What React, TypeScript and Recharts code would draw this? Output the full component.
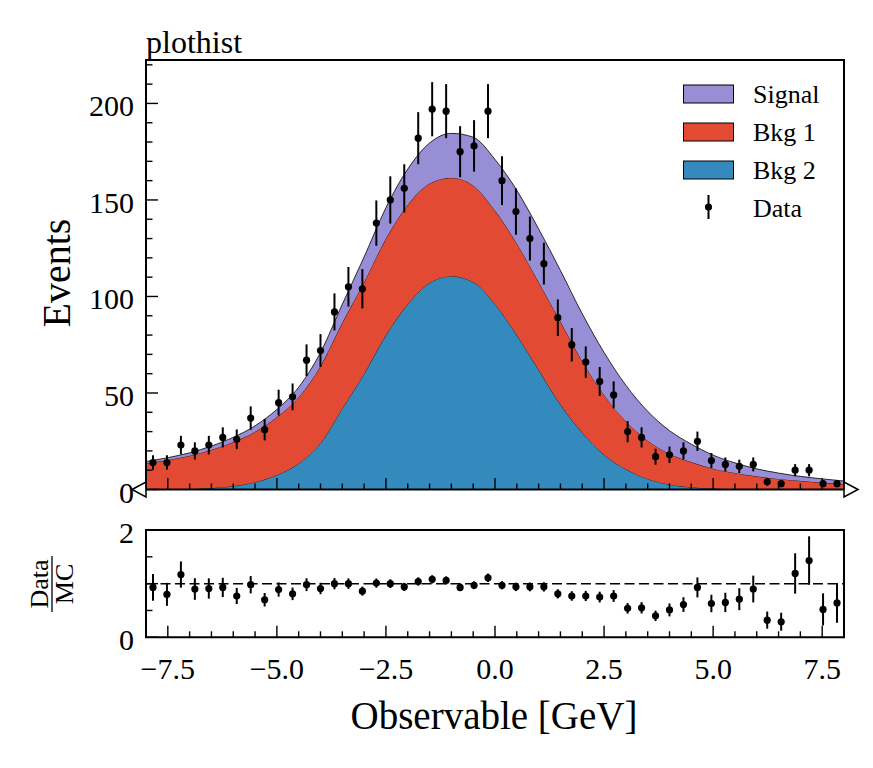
import {
  Area,
  ComposedChart,
  ErrorBar,
  ReferenceArea,
  ReferenceDot,
  ReferenceLine,
  Scatter,
  XAxis,
  YAxis,
} from "recharts";

// histogram definition
const X_LO = -8;
const X_HI = 8;
const N_BINS = 50;

// model curves, sampled every 0.5 (stacked: bkg2 at the bottom, then bkg1, then signal)
const curveX = [
  -8, -7.5, -7, -6.5, -6, -5.5, -5, -4.5, -4, -3.5, -3, -2.5, -2, -1.5, -1, -0.5, 0,
  0.5, 1, 1.5, 2, 2.5, 3, 3.5, 4, 4.5, 5, 5.5, 6, 6.5, 7, 7.5, 8,
];
const bkg2 = [
  0, 0.1, 0.3, 0.8, 1.8, 3.8, 7.5, 13.5, 24, 42, 60, 80, 96, 107, 110.5, 107.5, 96,
  80, 62, 44, 29.5, 18, 10.5, 5.5, 2.6, 1.2, 0.5, 0.2, 0.1, 0, 0, 0, 0,
];
const bkg1 = [
  13.5, 15.2, 17.2, 19.8, 22.8, 26.1, 30, 34.3, 40, 44.5, 47.5, 50, 51.5, 51.5, 51, 50, 48.5,
  47.5, 45.5, 43, 37, 31, 24.8, 19.8, 15.9, 13, 10.3, 8.4, 6.7, 5.5, 4.5, 3.6, 2.8,
];
const signal = [
  1.0, 1.2, 1.5, 1.9, 2.4, 3.1, 4.0, 5.2, 7.0, 9.5, 13, 16, 18.5, 21, 23, 25, 26.5,
  27.5, 27.5, 26.5, 24.5, 22, 18.7, 15.2, 12, 9.3, 7, 5.2, 3.9, 3, 2.3, 1.9, 1.6,
];

// observed counts per bin
const dataCounts = [
  14, 14, 23, 20, 23, 27, 26, 37, 31, 45,
  48, 67, 72, 92, 105, 104, 138, 150, 156, 182,
  197, 196, 175, 178, 196, 160, 144, 130, 117, 89,
  75, 66, 56, 49, 30, 27, 17, 18, 20, 25,
  15, 13, 12, 13, 4, 3, 10, 10, 3, 3,
];

// data / MC per bin
const ratioValues = [
  0.93, 0.8, 1.17, 0.9, 0.91, 0.93, 0.77, 0.98, 0.7, 0.89,
  0.81, 0.98, 0.91, 1.0, 1.0, 0.86, 1.01, 1.0, 0.94, 1.04,
  1.08, 1.06, 0.93, 0.97, 1.11, 0.97, 0.94, 0.94, 0.94, 0.81,
  0.77, 0.77, 0.75, 0.77, 0.54, 0.55, 0.4, 0.51, 0.61, 0.93,
  0.63, 0.65, 0.71, 0.9, 0.32, 0.29, 1.19, 1.43, 0.52, 0.64,
];

const xTicks = [
  -8, -7.5, -7, -6.5, -6, -5.5, -5, -4.5, -4, -3.5, -3, -2.5, -2, -1.5, -1, -0.5, 0,
  0.5, 1, 1.5, 2, 2.5, 3, 3.5, 4, 4.5, 5, 5.5, 6, 6.5, 7, 7.5, 8,
];
const xMajor = [-7.5, -5, -2.5, 0, 2.5, 5, 7.5];
const yMainTicks = [0, 10, 20, 30, 40, 50, 60, 70, 80, 90, 100, 110, 120, 130, 140, 150, 160, 170, 180, 190, 200, 210, 220];
const yMainMajor = [0, 50, 100, 150, 200];
const yRatioTicks = [0, 0.5, 1, 1.5, 2];
const yRatioMajor = [0, 1, 2];
const yRatioLabels = [0, 2];

const COLORS = { signal: "#988ED5", bkg1: "#E24A33", bkg2: "#348ABD" };
const FONT = "'Liberation Serif', 'DejaVu Serif', serif";
const Y_MAX = 222.5;

const binWidth = (X_HI - X_LO) / N_BINS;
const binCenter = (i: number) => X_LO + binWidth * (i + 0.5);

const curveData = curveX.map((x, i) => ({ x, bkg2: bkg2[i], bkg1: bkg1[i], signal: signal[i] }));
const dataPoints = dataCounts.map((n, i) => ({ x: binCenter(i), y: n, err: Math.sqrt(n) }));
const ratioPoints = ratioValues.map((r, i) => ({
  x: binCenter(i),
  r,
  err: r / Math.sqrt(dataCounts[i]),
}));

const has = (list: number[], v: number) => list.some((m) => Math.abs(m - v) < 1e-9);
const fmtX = (v: number) => (v < 0 ? "\u2212" : "") + Math.abs(v).toFixed(1);

// ticks point inwards; labels sit outside the frame
function XTick(props: any) {
  const { x, y, payload, showLabel } = props;
  const major = has(xMajor, payload.value);
  return (
    <g>
      <line x1={x} x2={x} y1={y} y2={y - (major ? 11.5 : 6)} stroke="#000" strokeWidth={1.4} />
      {showLabel && major && (
        <text x={x} y={y + 42} textAnchor="middle" fontFamily={FONT} fontSize={30} fill="#000">
          {fmtX(payload.value)}
        </text>
      )}
    </g>
  );
}

function YTick(props: any) {
  const { x, y, payload, major, labels } = props;
  const isMajor = has(major, payload.value);
  return (
    <g>
      <line x1={x} x2={x + (isMajor ? 12 : 6.5)} y1={y} y2={y} stroke="#000" strokeWidth={1.4} />
      {has(labels, payload.value) && (
        <text x={x - 12} y={y + 13} textAnchor="end" fontFamily={FONT} fontSize={30} fill="#000">
          {payload.value}
        </text>
      )}
    </g>
  );
}

const dot = (p: any) => <circle cx={p.cx} cy={p.cy} r={3.6} fill="#000" />;

const triLeft = (p: any) => (
  <polygon
    points={`${p.cx - 14},${p.cy} ${p.cx},${p.cy - 7.5} ${p.cx},${p.cy + 7.5}`}
    fill="#fff"
    stroke="#000"
    strokeWidth={1.5}
  />
);
const triRight = (p: any) => (
  <polygon
    points={`${p.cx + 14},${p.cy} ${p.cx},${p.cy - 7.5} ${p.cx},${p.cy + 7.5}`}
    fill="#fff"
    stroke="#000"
    strokeWidth={1.5}
  />
);

const abs = { position: "absolute" as const, left: 0, top: 0 };

const axisCommon = {
  interval: 0 as const,
  axisLine: false,
  tickLine: false,
  tickSize: 0,
  tickMargin: 0,
  allowDataOverflow: true,
};

function MainPanel() {
  return (
    <div style={abs}>
      <ComposedChart width={873} height={768} data={curveData} margin={{ top: 60, right: 29, bottom: 277.5, left: 145 }}>
        <XAxis
          {...axisCommon}
          dataKey="x"
          type="number"
          domain={[X_LO, X_HI]}
          ticks={xTicks}
          height={1}
          tick={<XTick showLabel={false} />}
        />
        <YAxis
          {...axisCommon}
          type="number"
          domain={[0, Y_MAX]}
          ticks={yMainTicks}
          width={1}
          tick={<YTick major={yMainMajor} labels={yMainMajor} />}
        />
        <Area type="monotone" dataKey="bkg2" stackId="mc" fill={COLORS.bkg2} fillOpacity={1} stroke="#000" strokeWidth={0.8} isAnimationActive={false} />
        <Area type="monotone" dataKey="bkg1" stackId="mc" fill={COLORS.bkg1} fillOpacity={1} stroke="#000" strokeWidth={0.8} isAnimationActive={false} />
        <Area type="monotone" dataKey="signal" stackId="mc" fill={COLORS.signal} fillOpacity={1} stroke="#000" strokeWidth={0.8} isAnimationActive={false} />
        <Scatter data={dataPoints} dataKey="y" shape={dot} isAnimationActive={false}>
          <ErrorBar dataKey="err" direction="y" width={0} stroke="#000" strokeWidth={2} />
        </Scatter>
        <ReferenceArea x1={X_LO} x2={X_HI} y1={0} y2={Y_MAX} fill="none" fillOpacity={0} stroke="#000" strokeWidth={2} ifOverflow="visible" zIndex={1000} />
        <ReferenceDot x={X_LO} y={0} r={1} shape={triLeft} ifOverflow="visible" zIndex={1001} />
        <ReferenceDot x={X_HI} y={0} r={1} shape={triRight} ifOverflow="visible" zIndex={1001} />
      </ComposedChart>
    </div>
  );
}

function RatioPanel() {
  return (
    <div style={abs}>
      <ComposedChart width={873} height={768} data={ratioPoints} margin={{ top: 530, right: 29, bottom: 129.7, left: 145 }}>
        <XAxis
          {...axisCommon}
          dataKey="x"
          type="number"
          domain={[X_LO, X_HI]}
          ticks={xTicks}
          height={1}
          tick={<XTick showLabel />}
        />
        <YAxis
          {...axisCommon}
          type="number"
          domain={[0, 2]}
          ticks={yRatioTicks}
          width={1}
          tick={<YTick major={yRatioMajor} labels={yRatioLabels} />}
        />
        <ReferenceLine y={1} stroke="#000" strokeWidth={1.5} strokeDasharray="10 4.5" />
        <Scatter data={ratioPoints} dataKey="r" shape={dot} isAnimationActive={false}>
          <ErrorBar dataKey="err" direction="y" width={0} stroke="#000" strokeWidth={2} />
        </Scatter>
        <ReferenceArea x1={X_LO} x2={X_HI} y1={0} y2={2} fill="none" fillOpacity={0} stroke="#000" strokeWidth={2} ifOverflow="visible" zIndex={1000} />
      </ComposedChart>
    </div>
  );
}

const legendItems = [
  { label: "Signal", color: COLORS.signal },
  { label: "Bkg 1", color: COLORS.bkg1 },
  { label: "Bkg 2", color: COLORS.bkg2 },
];

function Overlay() {
  return (
    <svg width={873} height={768} style={{ ...abs, pointerEvents: "none" }} fontFamily={FONT}>
      <text x={146} y={53} fontSize={32} fill="#000">plothist</text>
      <text transform="translate(70,273) rotate(-90)" textAnchor="middle" fontSize={40} fill="#000">
        Events
      </text>
      <g transform="translate(52,584) rotate(-90)">
        <text x={0} y={-4} textAnchor="middle" fontSize={26} fill="#000">Data</text>
        <line x1={-28} x2={28} y1={0} y2={0} stroke="#000" strokeWidth={1.3} />
        <text x={0} y={21} textAnchor="middle" fontSize={26} fill="#000">MC</text>
      </g>
      <text x={494} y={729} textAnchor="middle" fontSize={39} fill="#000">
        Observable [GeV]
      </text>
      {legendItems.map((item, i) => (
        <g key={item.label}>
          <rect x={683.5} y={85 + i * 38} width={50} height={18} fill={item.color} stroke="#000" strokeWidth={1} />
          <text x={753} y={103 + i * 38} fontSize={26} fill="#000">{item.label}</text>
        </g>
      ))}
      <line x1={708.5} x2={708.5} y1={195} y2={219} stroke="#000" strokeWidth={2} />
      <circle cx={708.5} cy={207} r={3.6} fill="#000" />
      <text x={753} y={217} fontSize={26} fill="#000">Data</text>
    </svg>
  );
}

export default function App() {
  return (
    <div style={{ ...abs, width: 873, height: 768, background: "#fff" }}>
      <MainPanel />
      <RatioPanel />
      <Overlay />
    </div>
  );
}
